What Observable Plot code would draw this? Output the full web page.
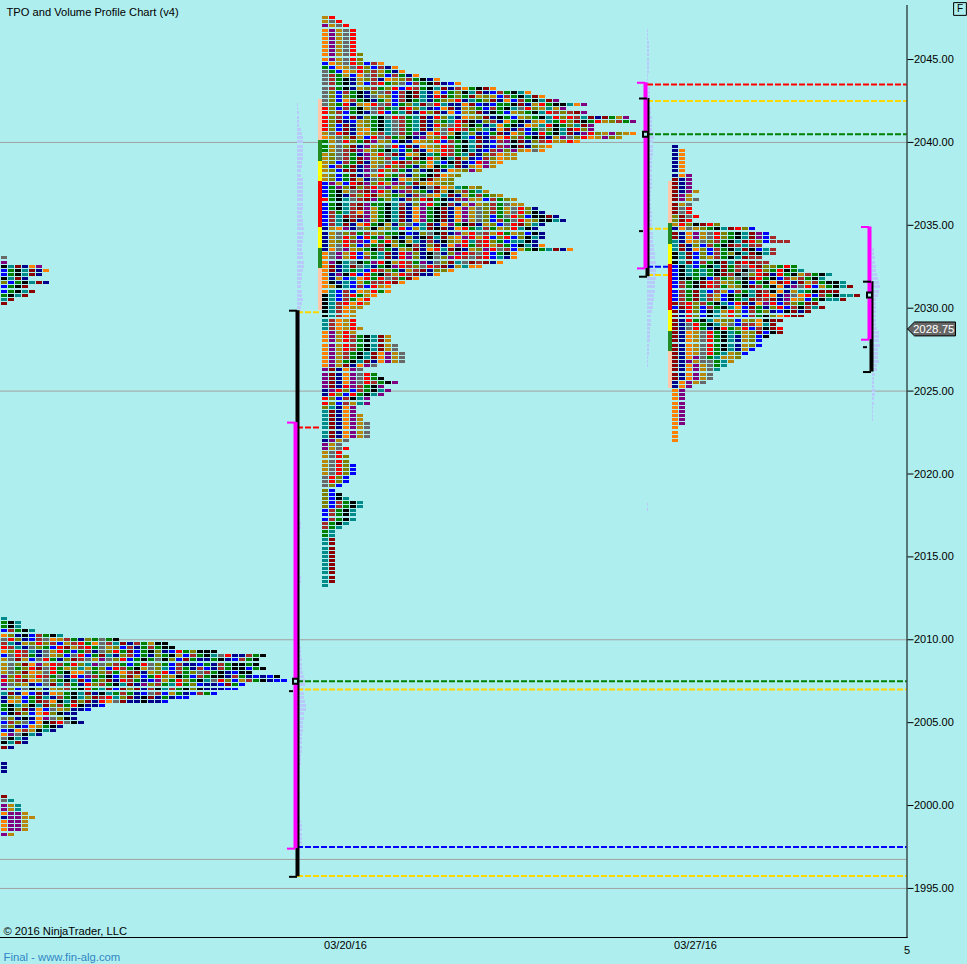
<!DOCTYPE html>
<html><head><meta charset="utf-8">
<script src="https://cdn.jsdelivr.net/npm/d3@7"></script>
<script src="https://cdn.jsdelivr.net/npm/@observablehq/plot@0.6"></script>
<style>html,body{margin:0;padding:0;background:#AFEEEE}svg{display:block}</style>
</head><body><div id="chart"></div>
<script>
const colorKey = {y:"#B8860B",s:"#696969",r:"#FF0000",p:"#800080",o:"#FF8000",O:"#808000",m:"#8B0000",B:"#A52A2A",n:"#00008B",b:"#0000FF",g:"#008000",t:"#008B8B",k:"#000000"};
const tickSizePrice = 0.25;
const axisPrices = [1995,2000,2005,2010,2015,2020,2025,2030,2035,2040,2045];
const dateTicks = [0,7];
const dateLabels = ["03/20/16","03/27/16"];
const gridPrices = [2040,2025,2010,1996.75,1995];

// TPO rows, top price first; one letter per time period that traded at that price
const upperLeftTop = 2033;
const upperLeftRows = ["s","p","ktmnop","bgktmno","bgktmn","ktmn","Obgktmn","bgkm","bgktm","gktm","tm","m"];
const lowerLeftTop = 2011.25;
const lowerLeftRows = ["t","gkt","gkt","bBgkt","oOnkb Bgkt","srOnb BsoyB gnOgs gk","BtnyO rOBby Brgos BtmnB gykk","rBtns Ogbrm yBrgs yObBn gBgkk",
"oOrBt nsyrg bgBns Orgmb gkOnb rgOkk k","bsrBg nsyOb srbgm tnOBb gnOgk ybBgk tsrnn Bgk","ysmyb srgnO mBsyp sOrbg kgskO bmgnn gknbB gk","ysOmo pyrBg rOtps OBgbg rsOgb Bnnbg nBgkk gk",
"ysgOr msrgy OtygO brBgk ysOtb BgnBb nBgkk bgk","ysOmo ysrgk oosgO BgoBm nyOrb BgOsB gknbk k","pOrOy rBgsn rbpBg kbOmy bgrOy kgbBg kknBg nbnbk","rOBmo ysOgk tmbgO mnrBg nbpyg rOgkt srOby Bgknb b",
"psOyn bsmtB gnrOB gktmn pOBgt rgObn nbmgb","pObsk OnyOB gkrgt mbmOm nBktB gkOkn nnbb","tmnob mnoyg ktmnk tgBgn bsBby gnbBg b","nOybg mtnBg ktOmB rtOmn kmngn bb",
"noybg mBokt mOmnr osmnn knnb","gktOk tmOBg rknnb","gkOmn obsyO nnb","bkmOb orOkn n","sOnkn opsOk n","bBOsb okmrs kn","sOnbo ygkn","bnoBy ktn","opskt n","sktn","ktmn","mn",
"","","","n","n","n","","","","","","m","st","pyt","pyt","oppy","nppyy","oppy","oppy","oppy","py"];
const middleTop = 2047.5;
const middleRows = ["yr","ysr","pysr","opysr","opysr","opysr","opysr","opysr","opysr","opysrO","opysrO","boysr ObBo","gboys rObBn o","sgboy rOBygn o","sBgyb osBOb Bgno",
"sBgkn yOBno yOBgk no","sBgkn ybBrg OsbBg kmnbo","sBgkn yOBgO rbrBg ktmnB ogkmo","sObBg knOsB bBkmt nobgO ktmnb Bgkto","sObOg knsyO bBkmt nrmgO gmyOy bBgkt mo",
"sOboB gkngy bBkgt ngOyr ntgOm nobBg ktmp","sOgrn yorsB bgOtm srtnn ombnb ggkmn yrgkk top","rObBg kysBg tmrOt nbomn yOgbB gktsr Oytyp","rOBbg knsrb gtmnr Omnob yOmnk gbyOg ktrBO Bmp",
"rOBbm nOgks rBgtm nrOtn oyOmn kgbyO gktrO rBtmn mgyp","rOmnb yOgkt sBgtm nOgtr mknOB nogkn yotgr Omkgr yOBgp","rObmn yOgkt sBgtm nrOsr Okgnt ogkno ytrkg Otmp","rObmn yogkt sBgtm nysrr BgOtn omnBb gsOkt mrOp",
"ysrmn oyOBt sBgpn orsyk tOnbg mnoOb nrgkt mnprO ypOyo","oysOm ybrsB gOknp yOrgk tbmnB orOBg kmnyp sOroy pOy","gysrO gmpyO bknoy OrbBg ktmnb Bpkmn OBryy ro","gysOm npyOs rbmno yOrBg ktmnb Bpkmn Oyo",
"gysBm pyOgk tbgmn oyrBg ktnbB pOpyo so","yOsBg npyrs mnoyk tgrBg tmnOB oyy","yOsBg mpyOB tbgmk rOktm ynbBO oyy","yObBg mnyOs rmBOg otbkm nbrpy o","ybBgm npysr OBgnO okgtm nyopy","yObmm npsrO BgnOn kmnoy Opy","yObgm npyrO gBnOg kmoyO","yObgm ynsOg noyOk myyO","bpybr mpOry pBtmy oyOO",
"bgpOm OBrsp yOBnk smoyt gyO","bgkys BmprO npBOg nmykO Bgty","bgknB OrmyO gOnBs yotmn ygBgO y","rgkts BmpgO tnBOr mgknB pyybB gOy","bgktB mpggk tBnOp rgkBn ypyOB gsyy","bgktB mpygk tmnop gkmno pysOB gysrO n","bBgtB opygk tmnop gkmno pysOB gysrO kn","bBtmB mpygk tmnop gkmno pysOb gsrOb kkmn","bBtkm npygk tmnop gkmno pysOb Bgsry Okktn",
"bBtmn orgky nOsbt mnopg kmnyO bsrmO tn","nyopn sOkyO trbyt mkmno rgtBg yOrtk n","nysOB gByOg gkbnO skmnp yrsBy rgyOb kn","nysrO brgpO knOnk mtmyo pryrb OrbOk tn","nyOrB pbogr Okytn BnkOy rtBrO gbttk n","nysrO bBgBk ygkBn Omnop rgBry Bgbkt no","nospy OgkBg nyOmn ortmk nyOpr sBbyg kgtmno","ospyr bygtm nrpOn ksnOp rBsrb gko","ospyr bBgtm nrpOn ksOpr BsBrb tno",
"opkts kgprk yrBgp nsOmt smBmn o","omntm stngk prBOs rBmny too","omntg tbrBO gnyBm nOOo","onpkr brgkB yrBmn no","onybt orgrs Bgmo","okntb ygBBr mo","oyktb Bbryo","otbBb oyrgo","ktbBr gyo","ktbBg or","ktBro ry","ktBoy y","ktBoy","ktBoy","tBoyr","tBoyr","tBoyr y","opyry",
"opyrB gktmy","opyrB gktmy","opyrB gktmy s","opyrB gktmy s","opyBg ktmop ys","opyBg ktmop ys","opygk tmnop ys","opymn ops","pmnop s","pmnop srg","pmnop srgk","pmnop srBgk p","pmnrp Bgkp","nprOb Bgktp","nrObr gktp","rObBk tp","rObBy tp","Otnop","tmnop","tmnop y","tmnop y","tmnop ys","tmnop ys","tmnop ys","tmnop ys","npys","pys","pysr","ysr","ysrO","ysrO","ysrOb","ysrOb","ysrOb","srOb","srOb","sOb","Ob","Obk","Obkt","ObBgk t","ObBgk t","bBgkt","bBgkt","bBgkt","Bgkt","Bgt","gt","gt","tm","tm","tm","tm","tm","tm","tm","tm","tm","tm","tm","t"];
const rightTop = 2039.75;
const rightRows = ["n","no","no","no","no","no","no","nop","mnp","mnp","mnp","mnpy","mpy","mpys","mys","msr","msr","Omsr","Omr","yrOkm rO","nosyO gktmr Ob","mnopy srOgk tmpb","mnopy srOgk tmpbB","tnoys OBgkt mrObB BB","tmnOb BgkmB tBB","tmnoO bBgkt mkbtB","ktmbO bBgOk tmktB","ktmbO yBgkt mBB","ktmbB gkmtm rmBB","bktbg ktmgB srmOO grg","bktgt gkmgB ksrOg rkgt","bktgt gkmBk sOrmn rgkyB gkt","bkkgk bBgOs kmrgk bByBg kt","bBgkm rByOg kbgko mrnmy Bgkkt","bBgkm rBgyO kmBgk onpsr bygkt m","bBgmt bBybB gtmBk onytg kmmm","bBgmt Bybkg ktmro npsor bBgkt tm","bBgmt Bybkg tmBBm npoyb gkttm","mBrOB gktbr mnopr bBOgm m","bmrOb Bgkto bmgnO rbBkB tm","mnrOb ktyrO bBgOn bkmnm","mnrOb ktyrO bBgkO ormm","mnrgk tyOOb yOokm m","mnsrg ktysb BBotm","mnsrg nkrgO rbBkm r","mnoys rgktg yOmbk m","mnoys rgktn yObk","mnoys rgktn yOb","mnoys rgktn yOb","mnoys rgktn yb","mnoys rgtyO b","mnops gtyyO","mnpys sgty","mnopy sgt","mnopy st","mnopy s","mnopy s","nopys","nop","op","op","op","op","op","op","op","op","op","o","o","o","o"];

// value-area strips: boundary prices and the colour between them
const middleStripPrices = [2042.6,2040.1,2038.85,2037.65,2034.87,2033.6,2032.4,2029.85];
const rightStripPrices = [2037.65,2035.1,2033.85,2032.65,2029.87,2028.6,2027.4,2025.15];
const stripColors = ["#FFC8AC","#228B22","#FFFF00","#FF0000","#FFFF00","#228B22","#FFC8AC"];

// volume histograms: first price, then volume per 0.25 price row
const volumeLeftA = [2042.25,1,1,2,2,2,2,4,5,6,6,6,6,6,6,5,5,4,4,6,6,6,6,6,6,6,6,5,5,6,6,7,7,6,6,5,5,6,6,7,7,6,5,5,4,4,5,5,6,5,4,4,3,3,3,3,3,3,3,3,3];
const volumeLeftB = [2018.5,3,3,3,3,3,3,4,4,3,3,3,3,3,3,3,3,3,3,3,4,4,3];
const volumeLeftC = [2011.25,2,2,2,3,3,3,3,4,4,4,5,5,5,6,7,8,8,7,7,7,8,9,9,7,7,6,6,6,5,5,5,5,5,4,4,4,3,3,3,2,2,2,3,3,2,2,2,2,3,4,5,5,5,5,5,3];
const volumeMidA = [2046.75,1,1,1,2,2,2,2,2,2,2,2,1,1,2,3,3,3,3,3,4,4,5,5,5,5,7,7,6,6,6,6,5,5,5,5,5,5,5,5,4,4,4,4,4,5,5,5,5,5,6,6,6,7,7,8,8,9,9,9,9,9,8,8,8,7,7,6,6,5,4,4,4,3,3,3,3,2,2,2,1,1,1];
const volumeMidB = [2018.1,1,1];
const volumeRight = [2033.5,2,2,3,3,4,4,5,6,7,8,7,6,4,4,4,4,4,4,4,5,7,7,7,8,6,6,6,7,5,5,3,2,2,2,3,3,2,2,1,1,1,1];

// session range bars
const barDays = [-1,6,10.48];
const magentaHigh = [2023.1,2043.6,2034.9];
const magentaLow = [1997.4,2032.4,2028.1];
const blackHigh = [2029.85,2042.65,2031.6];
const blackLow = [1995.7,2031.9,2026.15];
const blackMid = [2006.9,2034.65,2027.65];
const pocPrices = [2007.5,2040.5,2030.8];

// dashed level lines
const dashPrices = [2007.5,2007,1997.5,1995.75,2022.8,2029.75,2043.5,2042.5,2040.5,2034.8,2032.5,2032];
const dashColors = ["#008000","#FFD700","#0000FF","#FFD700","#FF0000","#FFD700","#FF0000","#FFD700","#008000","#FFD700","#0000FF","#FFD700"];
const dashFrom = [-.96,-.96,-.96,-.96,-.96,-.96,6.04,6.04,6.04,6.04,6.04,6.04];
const dashTo = [11.23,11.23,11.23,11.23,-.5,-.5,11.23,11.23,11.23,6.46,6.46,6.46];

const lastPrice = 2028.75;
const lastTagDays = [11.24,11.38,12.2,12.2,11.38,11.24];
const lastTagPrices = [2028.75,2029.17,2029.17,2028.33,2028.33,2028.75];

const px = 0.02, cellW = 6*px, pitch = 7*px, cellH = 0.09;
const cells = (rows, top, start) => rows.flatMap((r,i) => [...r.replace(/ /g,"")].map((c,j) => ({
  x1: start+j*pitch, x2: start+j*pitch+cellW, p: top-i*tickSizePrice, c: colorKey[c]})));
const allCells = [...cells(upperLeftRows,upperLeftTop,-6.88),...cells(lowerLeftRows,lowerLeftTop,-6.88),...cells(middleRows,middleTop,-0.46),...cells(rightRows,rightTop,6.54)];
const vol = (arr,start) => arr.slice(1).map((v,i) => ({p:arr[0]-i*tickSizePrice, x1:start, x2:start+v*px}));
const allVol = [...vol(volumeLeftA,-.96),...vol(volumeLeftB,-.96),...vol(volumeLeftC,-.96),...vol(volumeMidA,6.04),...vol(volumeMidB,6.04),...vol(volumeRight,10.54)];
const strip = (prices,x1,x2) => stripColors.map((c,i) => ({x1,x2,y1:prices[i],y2:prices[i+1],c}));
const strips = [...strip(middleStripPrices,-.54,-.46),...strip(rightStripPrices,6.46,6.54)];
const bars = barDays.map((d,i) => ({d,mh:magentaHigh[i],ml:magentaLow[i],bh:blackHigh[i],bl:blackLow[i],bm:blackMid[i],poc:pocPrices[i]}));
const dashes = dashPrices.map((p,i) => ({p,c:dashColors[i],x1:dashFrom[i],x2:dashTo[i]}));
const font = "Liberation Sans, Arial, sans-serif";

const chart = Plot.plot({
  width:967, height:964, marginLeft:0, marginRight:60.5, marginTop:5, marginBottom:27,
  style:{background:"#AFEEEE",fontFamily:font,fontSize:"11px",color:"#000"},
  x:{domain:[-6.9,11.23],label:null},
  y:{domain:[1992.04,2048.26],label:null},
  marks:[
    Plot.ruleY(gridPrices,{y:d=>d,stroke:"#A0A0A0",strokeWidth:1}),
    Plot.rect(allVol,{x1:"x1",x2:"x2",y1:d=>d.p-0.09,y2:d=>d.p+0.09,fill:"#B8CAFA",shapeRendering:"crispEdges"}),
    Plot.rect(strips,{x1:"x1",x2:"x2",y1:"y1",y2:"y2",fill:d=>d.c,shapeRendering:"crispEdges"}),
    Plot.rect(allCells,{x1:"x1",x2:"x2",y1:d=>d.p-cellH,y2:d=>d.p+cellH,fill:d=>d.c,shapeRendering:"crispEdges"}),
    Plot.ruleY(dashes,{y:"p",x1:"x1",x2:"x2",stroke:d=>d.c,strokeWidth:2,strokeDasharray:"6,2"}),
    Plot.ruleX(bars,{x:d=>d.d+2*px,y1:"bl",y2:"bh",stroke:"#000",strokeWidth:4}),
    Plot.ruleX(bars,{x:"d",y1:"ml",y2:"mh",stroke:"#FF00FF",strokeWidth:4}),
    Plot.ruleY(bars,{y:"mh",x1:d=>d.d-8*px,x2:"d",stroke:"#FF00FF",strokeWidth:2}),
    Plot.ruleY(bars,{y:"ml",x1:d=>d.d-8*px,x2:"d",stroke:"#FF00FF",strokeWidth:2}),
    Plot.ruleY(bars,{y:"bh",x1:d=>d.d-6*px,x2:d=>d.d+2*px,stroke:"#000",strokeWidth:2}),
    Plot.ruleY(bars,{y:"bl",x1:d=>d.d-6*px,x2:d=>d.d+2*px,stroke:"#000",strokeWidth:2}),
    Plot.ruleY(bars,{y:"bm",x1:d=>d.d-6*px,x2:d=>d.d-2*px,stroke:"#000",strokeWidth:2}),
    Plot.dot(bars,{x:"d",y:"poc",symbol:"square",r:2.8,stroke:"#000",strokeWidth:2,fill:"#AFEEEE"}),
    Plot.frame({anchor:"right",stroke:"#000"}),
    Plot.frame({anchor:"bottom",stroke:"#000"}),
    Plot.axisY({anchor:"right",ticks:axisPrices,tickFormat:d=>d.toFixed(2),tickSize:6,tickPadding:1,fontSize:11,label:null}),
    Plot.axisX({anchor:"bottom",ticks:dateTicks,tickFormat:d=>dateLabels[dateTicks.indexOf(d)],tickSize:0,tickPadding:4,fontSize:11,label:null}),
    Plot.line(lastTagDays.map((d,i)=>({d,p:lastTagPrices[i]})),{x:"d",y:"p",fill:"#666666",stroke:"#000",strokeWidth:1}),
    Plot.text([lastPrice],{x:()=>12.18,y:d=>d,text:d=>d.toFixed(2),textAnchor:"end",fill:"#fff",fontSize:11.5}),
    Plot.text(["TPO and Volume Profile Chart (v4)"],{frameAnchor:"top-left",dx:6,dy:7,lineAnchor:"middle",fontSize:11.15,fill:"#000"}),
    Plot.text(["© 2016 NinjaTrader, LLC"],{frameAnchor:"bottom-left",dx:3,dy:-6,lineAnchor:"middle",fontSize:11.2,fill:"#000"}),
    Plot.text(["Final - www.fin-alg.com"],{frameAnchor:"bottom-left",dx:3,dy:20,lineAnchor:"middle",fontSize:11.3,fill:"#2F86C5"}),
    Plot.text(["5"],{frameAnchor:"bottom-right",dx:-3,dy:13,lineAnchor:"middle",textAnchor:"start",fontSize:11,fill:"#000"}),
    Plot.dot(["F"],{frameAnchor:"top-right",dx:53,dy:3.5,symbol:"square",r:7.2,stroke:"#000",strokeWidth:1,fill:"none"}),
    Plot.text(["F"],{frameAnchor:"top-right",dx:53,dy:3.5,lineAnchor:"middle",textAnchor:"middle",fontSize:10,fill:"#000"})
  ]
});
document.getElementById("chart").appendChild(chart);
</script></body></html>
